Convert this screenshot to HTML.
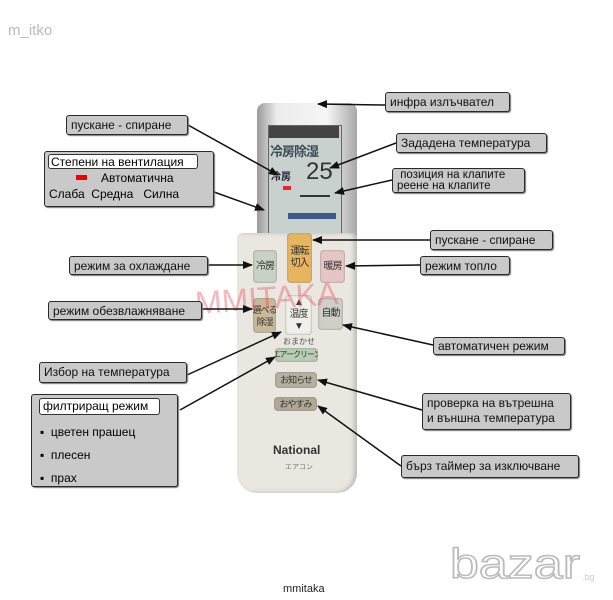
<!DOCTYPE html>
<html><head><meta charset="utf-8"><style>
body{margin:0;width:613px;height:600px;background:#fff;position:relative;overflow:hidden;font-family:"Liberation Sans","Noto Sans CJK JP",sans-serif}
.a{position:absolute;white-space:nowrap}
.lb{position:absolute;background:#c9c9c9;border:1.5px solid #2a2a2a;border-radius:3px;box-shadow:1px 1px 1px #777;font-size:12px;color:#111;box-sizing:border-box;padding:2px 4px;line-height:14px;white-space:nowrap;overflow:hidden}
.bt{position:absolute;border-radius:4px;font-size:10px;display:flex;align-items:center;justify-content:center;text-align:center;color:#333;line-height:12px;box-shadow:inset 0 0 2px #888;white-space:nowrap;overflow:hidden;letter-spacing:-1px}
</style></head><body>
<div class="a" style="left:8px;top:22px;color:#bbb;font-size:15px">m_itko</div>

<div class="a" style="left:257px;top:103px;width:100px;height:140px;background:linear-gradient(90deg,#9a9a9a,#ececec 20%,#f5f5f5 70%,#a8a8a8);border-radius:8px 8px 0 0"></div>
<div class="a" style="left:268px;top:125px;width:72px;height:113px;background:#c9d1cf;border:1px solid #666"></div>
<div class="a" style="left:269px;top:126px;width:70px;height:12px;background:#444"></div>
<div class="a" style="left:270px;top:141px;font-size:13px;color:#3a4a55;font-weight:bold;letter-spacing:-1px">冷房除湿</div>
<div class="a" style="left:271px;top:168px;font-size:10px;color:#223;font-weight:bold">冷房</div>
<div class="a" style="left:306px;top:158px;font-size:24px;color:#333">25</div>
<div class="a" style="left:283px;top:186px;width:8px;height:4px;background:#e22"></div>
<div class="a" style="left:300px;top:195px;width:30px;height:2px;background:#333"></div>
<div class="a" style="left:288px;top:213px;width:48px;height:6px;background:#3b5a88"></div>

<div class="a" style="left:237px;top:233px;width:120px;height:260px;background:#e9e7e0;border-radius:6px 6px 20px 20px;box-shadow:inset -3px 0 4px #bbb"></div>
<div class="bt" style="left:253px;top:250px;width:24px;height:33px;background:#c8d2c4">冷房</div>
<div class="bt" style="left:287px;top:233px;width:25px;height:50px;background:#e9b45e">運転<br>切入</div>
<div class="bt" style="left:320px;top:250px;width:25px;height:33px;background:#e6c6c4">暖房</div>
<div class="bt" style="left:253px;top:298px;width:23px;height:35px;background:#c9b89a;font-size:9px">選べる<br>除湿</div>
<div class="bt" style="left:285px;top:295px;width:27px;height:40px;background:#f0efea;font-size:10px">▲<br>温度<br>▼</div>
<div class="bt" style="left:318px;top:298px;width:25px;height:32px;background:#cfcfc9">自動</div>
<div class="a" style="left:283px;top:336px;font-size:8px;color:#555">おまかせ</div>
<div class="bt" style="left:275px;top:348px;width:43px;height:14px;background:#b9ccb4;font-size:8px">エアークリーン</div>
<div class="bt" style="left:275px;top:372px;width:42px;height:16px;background:#b6b09f;font-size:9px">お知らせ</div>
<div class="bt" style="left:274px;top:397px;width:43px;height:14px;background:#b0a895;font-size:9px">おやすみ</div>
<div class="a" style="left:273px;top:443px;font-size:12px;font-weight:bold;color:#333">National</div>
<div class="a" style="left:285px;top:462px;font-size:7px;color:#777">エアコン</div>
<div class="a" style="left:195px;top:280px;font-size:32px;color:rgba(230,80,90,0.4);transform:rotate(-4deg)">MMITAKA</div>

<svg class="a" style="left:0;top:0" width="613" height="600">
<defs><marker id="m" markerWidth="10" markerHeight="8" refX="9" refY="4" orient="auto" markerUnits="userSpaceOnUse"><path d="M0,0L10,4L0,8z" fill="#111"/></marker></defs>
<g stroke="#111" stroke-width="1.5" marker-end="url(#m)">
<line x1="385" y1="105" x2="318" y2="104"/>
<line x1="188" y1="125" x2="278" y2="175"/>
<line x1="214" y1="192" x2="264" y2="210"/>
<line x1="396" y1="143" x2="330" y2="168"/>
<line x1="392" y1="180" x2="335" y2="193"/>
<line x1="430" y1="240" x2="313" y2="240"/>
<line x1="208" y1="265" x2="252" y2="265"/>
<line x1="420" y1="265" x2="346" y2="266"/>
<line x1="202" y1="309" x2="252" y2="309"/>
<line x1="433" y1="345" x2="343" y2="325"/>
<line x1="187" y1="375" x2="281" y2="332"/>
<line x1="180" y1="410" x2="275" y2="357"/>
<line x1="422" y1="410" x2="318" y2="380"/>
<line x1="401" y1="466" x2="318" y2="406"/>
</g>
<text x="450" y="578" font-size="42" fill="#fff" stroke="#bbb" stroke-width="1.5" font-family="Liberation Sans" textLength="130" lengthAdjust="spacingAndGlyphs">bazar</text>
<text x="582" y="580" font-size="9" fill="#ccc" font-family="Liberation Sans">.bg</text>
</svg>

<div class="lb" style="left:385px;top:92px;width:125px;height:20px">инфра излъчвател</div>
<div class="lb" style="left:66px;top:115px;width:122px;height:20px">пускане - спиране</div>
<div class="lb" style="left:44px;top:151px;width:170px;height:56px;padding:0"></div>
<div class="a" style="left:48px;top:154px;width:150px;height:15px;background:#fff;border:1px solid #333;border-radius:3px;font-size:12px;line-height:14px;padding-left:2px;box-sizing:border-box">Степени на вентилация</div>
<div class="a" style="left:76px;top:175px;width:11px;height:5px;background:#e00"></div>
<div class="a" style="left:101px;top:171px;font-size:12px">Автоматична</div>
<div class="a" style="left:49px;top:187px;font-size:12px">Слаба&nbsp; Средна &nbsp; Силна</div>
<div class="lb" style="left:396px;top:133px;width:151px;height:20px">Зададена температура</div>
<div class="lb" style="left:392px;top:168px;width:133px;height:25px;line-height:11px;padding-top:1px;font-size:11.5px">&nbsp;позиция на клапите<br>реене на клапите</div>
<div class="lb" style="left:430px;top:230px;width:123px;height:20px">пускане - спиране</div>
<div class="lb" style="left:69px;top:256px;width:139px;height:19px">режим за охлаждане</div>
<div class="lb" style="left:420px;top:256px;width:90px;height:19px">режим топло</div>
<div class="lb" style="left:48px;top:301px;width:154px;height:19px">режим обезвлажняване</div>
<div class="lb" style="left:433px;top:337px;width:132px;height:18px;line-height:13px">автоматичен режим</div>
<div class="lb" style="left:39px;top:362px;width:148px;height:21px">Избор на температура</div>
<div class="lb" style="left:31px;top:394px;width:147px;height:93px;padding:0"></div>
<div class="a" style="left:39px;top:398px;width:121px;height:17px;background:#fff;border:1px solid #333;border-radius:3px;font-size:12px;line-height:15px;padding-left:3px;box-sizing:border-box">филтриращ режим</div>
<div class="a" style="left:40px;top:421px;font-size:12px;line-height:23px">▪ &nbsp;цветен прашец<br>▪ &nbsp;плесен<br>▪ &nbsp;прах</div>
<div class="lb" style="left:422px;top:393px;width:149px;height:37px;line-height:15px;padding-top:2px">проверка на вътрешна<br>и външна температура</div>
<div class="lb" style="left:401px;top:455px;width:178px;height:23px;line-height:17px">бърз таймер за изключване</div>
<div class="a" style="left:283px;top:583px;font-size:11px;color:#222">mmitaka</div>
</body></html>
